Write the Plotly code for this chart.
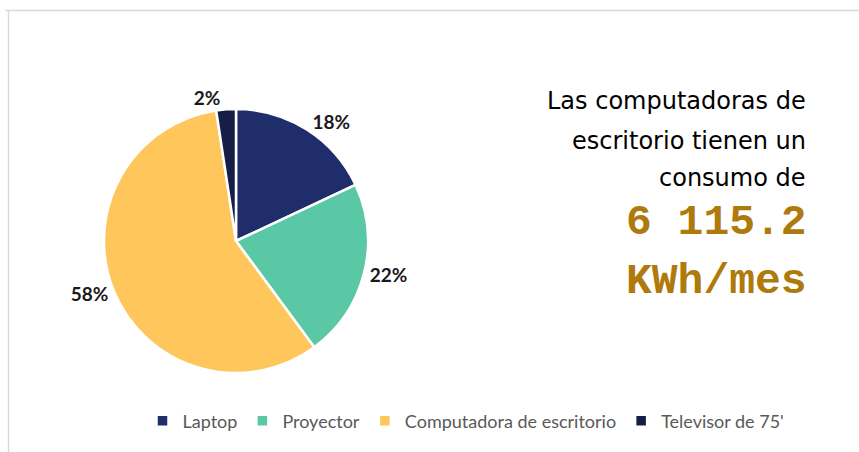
import plotly.graph_objects as go

categories = ["Laptop", "Proyector", "Computadora de escritorio", "Televisor de 75'"]
values = [18.0, 21.9, 57.7, 2.4]
colors = ["#1F2D6B", "#5AC8A5", "#FFC65C", "#151F45"]

text_lines = ["Las computadoras de", "escritorio tienen un", "consumo de"]
big_lines = ["6 115.2", "KWh/mes"]

W, H = 859, 452

fig = go.Figure()
fig.add_trace(go.Pie(
    labels=categories,
    values=values,
    sort=False,
    direction="clockwise",
    rotation=0,
    marker=dict(colors=colors, line=dict(color="white", width=2.5)),
    textinfo="percent",
    texttemplate="%{percent:.0%}",
    textposition="outside",
    outsidetextfont=dict(family="Lato, sans-serif", size=19, color="#1a1a1a", weight="bold"),
    domain=dict(x=[104 / W, 368 / W], y=[(H - 373) / H, (H - 109) / H]),
    hoverinfo="label+percent",
    showlegend=True,
))

annotations = []
ys = [101, 141, 178]
for t, yy in zip(text_lines, ys):
    annotations.append(dict(
        text=t, x=808 / W, y=1 - yy / H, xref="paper", yref="paper",
        xanchor="right", yanchor="middle", showarrow=False,
        font=dict(family="DejaVu Sans, sans-serif", size=24, color="#000000"),
    ))
for t, yy in zip(big_lines, [222, 281]):
    annotations.append(dict(
        text="<b>" + t + "</b>", x=809 / W, y=1 - yy / H, xref="paper", yref="paper",
        xanchor="right", yanchor="middle", showarrow=False,
        font=dict(family="Liberation Mono, Courier New, monospace", size=43, color="#AF7A0C"),
    ))

fig.update_layout(
    width=W, height=H,
    margin=dict(l=0, r=0, t=0, b=0, autoexpand=False),
    paper_bgcolor="white",
    plot_bgcolor="white",
    annotations=annotations,
    legend=dict(
        orientation="h", x=466 / W, y=1 - 421 / H, xanchor="center", yanchor="middle",
        font=dict(family="Lato, sans-serif", size=18, color="#595959"),
        itemwidth=30, traceorder="normal", bgcolor="rgba(0,0,0,0)",
    ),
    shapes=[
        dict(type="line", xref="paper", yref="paper", x0=5 / W, x1=1.0, y0=1 - 10.5 / H, y1=1 - 10.5 / H,
             line=dict(color="#D9D9D9", width=1.5)),
        dict(type="line", xref="paper", yref="paper", x0=8.5 / W, x1=8.5 / W, y0=0, y1=1 - 10 / H,
             line=dict(color="#D9D9D9", width=1.5)),
    ],
)

fig.write_html("out.html", config={"displayModeBar": False},
               post_script="document.body.style.margin='0';")
